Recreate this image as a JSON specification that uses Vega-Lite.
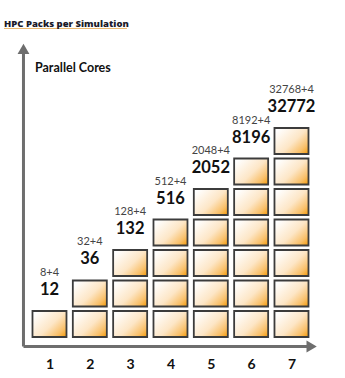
{
  "$schema": "https://vega.github.io/schema/vega-lite/v6.json",
  "width": 345,
  "height": 316,
  "autosize": "none",
  "padding": {"top": 32, "bottom": 30, "left": 0, "right": 0},
  "background": "white",
  "title": {"text": "HPC Packs per Simulation", "anchor": "start", "dx": 4, "offset": -1, "font": "Open Sans", "fontSize": 9.5, "fontWeight": 800, "color": "#1a1a2a"},
  "config": {"view": {"stroke": null}},
  "datasets": {
    "cells": [
      {"col": 1, "row": 1},
      {"col": 2, "row": 1}, {"col": 2, "row": 2},
      {"col": 3, "row": 1}, {"col": 3, "row": 2}, {"col": 3, "row": 3},
      {"col": 4, "row": 1}, {"col": 4, "row": 2}, {"col": 4, "row": 3}, {"col": 4, "row": 4},
      {"col": 5, "row": 1}, {"col": 5, "row": 2}, {"col": 5, "row": 3}, {"col": 5, "row": 4}, {"col": 5, "row": 5},
      {"col": 6, "row": 1}, {"col": 6, "row": 2}, {"col": 6, "row": 3}, {"col": 6, "row": 4}, {"col": 6, "row": 5}, {"col": 6, "row": 6},
      {"col": 7, "row": 1}, {"col": 7, "row": 2}, {"col": 7, "row": 3}, {"col": 7, "row": 4}, {"col": 7, "row": 5}, {"col": 7, "row": 6}, {"col": 7, "row": 7}
    ],
    "labels": [
      {"col": 1, "top": 1, "formula": "8+4", "total": "12"},
      {"col": 2, "top": 2, "formula": "32+4", "total": "36"},
      {"col": 3, "top": 3, "formula": "128+4", "total": "132"},
      {"col": 4, "top": 4, "formula": "512+4", "total": "516"},
      {"col": 5, "top": 5, "formula": "2048+4", "total": "2052"},
      {"col": 6, "top": 6, "formula": "8192+4", "total": "8196"},
      {"col": 7, "top": 7, "formula": "32768+4", "total": "32772"}
    ]
  },
  "layer": [
    {
      "data": {"name": "cells"},
      "mark": {
        "type": "rect",
        "width": 34,
        "height": 26,
        "stroke": "#3c3c3c",
        "strokeWidth": 1.8,
        "color": {"gradient": "linear", "x1": 0, "y1": 0.2, "x2": 1, "y2": 1,
          "stops": [
            {"offset": 0, "color": "#ffffff"},
            {"offset": 0.5, "color": "#fde6c6"},
            {"offset": 0.8, "color": "#f9c06a"},
            {"offset": 1, "color": "#f59a05"}
          ]}
      },
      "encoding": {
        "x": {"field": "col", "type": "quantitative",
          "scale": {"domain": [-0.227, 8.327], "nice": false, "zero": false},
          "axis": {"values": [1, 2, 3, 4, 5, 6, 7], "title": null, "domain": false, "ticks": false, "grid": false,
            "labelFont": "Lato", "labelFontSize": 14, "labelFontWeight": "bold", "labelColor": "#111", "labelPadding": 9}},
        "y": {"field": "row", "type": "quantitative",
          "scale": {"domain": [0.213, 10.574], "nice": false, "zero": false},
          "axis": null}
      }
    },
    {
      "data": {"name": "labels"},
      "mark": {"type": "text", "font": "Lato", "fontSize": 16.5, "fontWeight": "bold", "color": "#111", "baseline": "middle", "dy": -34},
      "encoding": {
        "x": {"field": "col", "type": "quantitative"},
        "y": {"field": "top", "type": "quantitative"},
        "text": {"field": "total"}
      }
    },
    {
      "data": {"name": "labels"},
      "mark": {"type": "text", "font": "Lato", "fontSize": 11, "color": "#444", "baseline": "middle", "dy": -51},
      "encoding": {
        "x": {"field": "col", "type": "quantitative"},
        "y": {"field": "top", "type": "quantitative"},
        "text": {"field": "formula"}
      }
    },
    {
      "data": {"values": [{}]},
      "mark": {"type": "rule", "color": "#6e6e6e", "strokeWidth": 3},
      "encoding": {
        "x": {"datum": 0.355, "type": "quantitative"},
        "y": {"datum": 0.262, "type": "quantitative"},
        "x2": {"datum": 7.4},
        "y2": {"datum": 0.262}
      }
    },
    {
      "data": {"values": [{}]},
      "mark": {"type": "rule", "color": "#6e6e6e", "strokeWidth": 3},
      "encoding": {
        "x": {"datum": 0.355, "type": "quantitative"},
        "y": {"datum": 0.262, "type": "quantitative"},
        "x2": {"datum": 0.355},
        "y2": {"datum": 9.9}
      }
    },
    {
      "data": {"values": [{}]},
      "mark": {"type": "point", "shape": "triangle-right", "filled": true, "color": "#6e6e6e", "opacity": 1, "size": 140},
      "encoding": {
        "x": {"datum": 7.5, "type": "quantitative"},
        "y": {"datum": 0.262, "type": "quantitative"}
      }
    },
    {
      "data": {"values": [{}]},
      "mark": {"type": "point", "shape": "triangle-up", "filled": true, "color": "#6e6e6e", "opacity": 1, "size": 140},
      "encoding": {
        "x": {"datum": 0.355, "type": "quantitative"},
        "y": {"datum": 10.02, "type": "quantitative"}
      }
    },
    {
      "data": {"values": [{"label": "Parallel Cores"}]},
      "mark": {"type": "text", "font": "Lato", "fontSize": 12.5, "fontWeight": "bold", "color": "#111", "align": "left", "baseline": "middle"},
      "encoding": {
        "x": {"datum": 0.64, "type": "quantitative"},
        "y": {"datum": 9.39, "type": "quantitative"},
        "text": {"field": "label"}
      }
    },
    {
      "data": {"values": [{}]},
      "mark": {"type": "rule", "color": "#e9b56a", "strokeWidth": 1},
      "encoding": {
        "x": {"datum": -0.128, "type": "quantitative"},
        "y": {"datum": 10.69, "type": "quantitative"},
        "x2": {"datum": 2.92},
        "y2": {"datum": 10.69}
      }
    }
  ]
}
